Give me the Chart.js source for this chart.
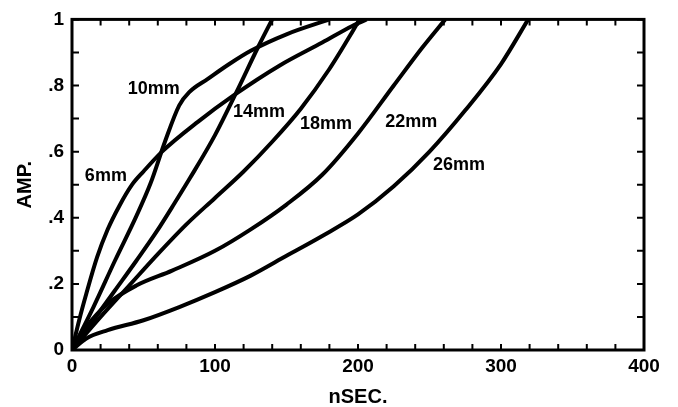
<!DOCTYPE html>
<html lang="en">

<head>
    <meta charset="UTF-8">
    <title>AMP. vs nSEC.</title>
    <script src="https://cdn.jsdelivr.net/npm/chart.js"></script>
    <style>
        body { margin: 0; background: #fff; }
        canvas { display: block; }
    </style>
</head>

<body>
    <canvas id="chart" width="678" height="407"></canvas>

    <script>
        // curve names
        const curveNames = ['6mm', '10mm', '14mm', '18mm', '22mm', '26mm'];

        // time (nSEC.) and amplitude for each curve
        const t6 = [0, 5, 10, 17.5, 25, 33, 42, 50, 63, 88, 113, 145, 175, 196, 206];
        const a6 = [0, 0.09, 0.17, 0.28, 0.365, 0.435, 0.5, 0.54, 0.6, 0.69, 0.77, 0.86, 0.93, 0.98, 1];

        const t10 = [0, 15, 30, 45, 55, 65, 75, 82, 95, 110, 125, 150, 180];
        const a10 = [0, 0.13, 0.27, 0.405, 0.505, 0.63, 0.74, 0.78, 0.82, 0.865, 0.905, 0.955, 1];

        const t14 = [0, 15, 30, 45, 59, 72, 82.5, 100, 115, 130, 140];
        const a14 = [0, 0.09, 0.18, 0.27, 0.357, 0.446, 0.52, 0.65, 0.78, 0.915, 1];

        const t18 = [0, 20, 40, 60, 80, 100, 120, 140, 160, 180, 195, 201];
        const a18 = [0, 0.1, 0.195, 0.29, 0.38, 0.46, 0.54, 0.63, 0.73, 0.85, 0.955, 1];

        const t22 = [0, 10, 25, 45, 70, 100, 125, 150, 175, 200, 225, 245, 261];
        const a22 = [0, 0.07, 0.14, 0.195, 0.24, 0.3, 0.365, 0.44, 0.53, 0.655, 0.8, 0.915, 1];

        const t26 = [0, 10, 25, 50, 75, 100, 125, 150, 175, 200, 225, 250, 275, 300, 319];
        const a26 = [0, 0.035, 0.06, 0.09, 0.13, 0.175, 0.225, 0.285, 0.345, 0.41, 0.495, 0.6, 0.725, 0.865, 1];

        // tick labels
        const xTickLabels = ['0', '100', '200', '300', '400'];
        const yTickLabels = ['0', '.2', '.4', '.6', '.8', '1'];

        // where each curve name is written (data units, left edge of text)
        const labelAnchors = [[9, 0.527], [39, 0.789], [112.6, 0.72], [159.4, 0.682], [219, 0.69], [252.4, 0.56]];

        const times = [t6, t10, t14, t18, t22, t26];
        const amps = [a6, a10, a14, a18, a22, a26];

        const FONT = "'Liberation Sans', Arial, sans-serif";

        const datasets = curveNames.map((name, i) => ({
            label: name,
            data: times[i].map((t, k) => ({ x: t, y: amps[i][k] })),
            borderColor: '#000',
            borderWidth: 4,
            pointRadius: 0,
            fill: false,
            cubicInterpolationMode: 'monotone'
        }));

        // frame, inward ticks and the curve names
        const frameAndTicks = {
            id: 'frameAndTicks',
            afterDraw(chart) {
                const { ctx, chartArea: a, scales: { x, y } } = chart;
                ctx.save();
                ctx.strokeStyle = '#000';
                ctx.lineWidth = 3;
                ctx.strokeRect(a.left, a.top, a.right - a.left, a.bottom - a.top);

                ctx.lineWidth = 2;
                ctx.beginPath();
                x.ticks.forEach(t => {
                    const px = x.getPixelForValue(t.value);
                    ctx.moveTo(px, a.bottom);
                    ctx.lineTo(px, a.bottom - 6);
                    ctx.moveTo(px, a.top);
                    ctx.lineTo(px, a.top + 6);
                });
                y.ticks.forEach(t => {
                    const py = y.getPixelForValue(t.value);
                    ctx.moveTo(a.left, py);
                    ctx.lineTo(a.left + 7, py);
                    ctx.moveTo(a.right, py);
                    ctx.lineTo(a.right - 7, py);
                });
                ctx.stroke();

                ctx.fillStyle = '#000';
                ctx.font = 'bold 18px ' + FONT;
                ctx.textAlign = 'left';
                ctx.textBaseline = 'middle';
                curveNames.forEach((name, i) => {
                    const [lx, ly] = labelAnchors[i];
                    ctx.fillText(name, x.getPixelForValue(lx), y.getPixelForValue(ly));
                });
                ctx.restore();
            }
        };

        new Chart(document.getElementById('chart'), {
            type: 'line',
            data: { datasets },
            options: {
                responsive: false,
                animation: false,
                layout: { padding: { top: 14, right: 34, left: 0, bottom: 0 } },
                plugins: {
                    legend: { display: false },
                    tooltip: { enabled: false }
                },
                scales: {
                    x: {
                        type: 'linear',
                        min: 0,
                        max: 400,
                        grid: { display: false, drawTicks: false },
                        border: { display: false },
                        ticks: {
                            stepSize: 20,
                            autoSkip: false,
                            maxRotation: 0,
                            padding: 5,
                            color: '#000',
                            font: { family: FONT, size: 19, weight: 'bold' },
                            callback: v => (Math.round(v) % 100 === 0 ? xTickLabels[Math.round(v) / 100] : '')
                        },
                        title: {
                            display: true,
                            text: 'nSEC.',
                            color: '#000',
                            font: { family: FONT, size: 20, weight: 'bold', lineHeight: 1 },
                            padding: { top: 0, bottom: 0 }
                        },
                        afterFit: s => { s.height = 57; }
                    },
                    y: {
                        min: 0,
                        max: 1,
                        grid: { display: false, drawTicks: false },
                        border: { display: false },
                        ticks: {
                            stepSize: 0.1,
                            autoSkip: false,
                            padding: 8,
                            color: '#000',
                            font: { family: FONT, size: 19, weight: 'bold' },
                            callback: v => {
                                const n = Math.round(v * 10);
                                return n % 2 === 0 ? yTickLabels[n / 2] : '';
                            }
                        },
                        title: {
                            display: true,
                            text: 'AMP.',
                            color: '#000',
                            font: { family: FONT, size: 20, weight: 'bold', lineHeight: 1 },
                            padding: { top: 15, bottom: 0 }
                        },
                        afterFit: s => { s.width = 72; }
                    }
                }
            },
            plugins: [frameAndTicks]
        });
    </script>
</body>

</html>
